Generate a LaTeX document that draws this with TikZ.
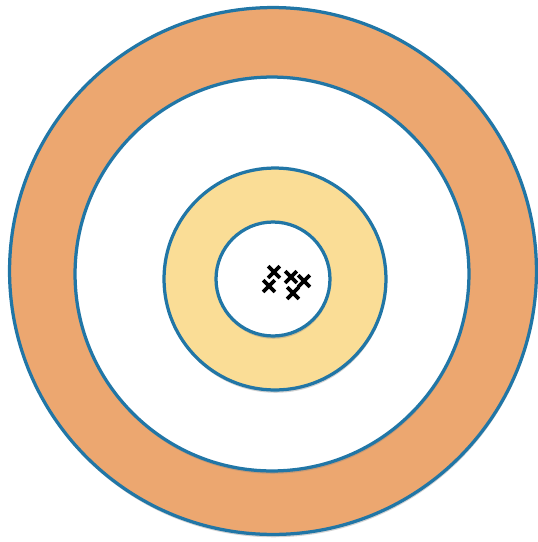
\documentclass[tikz,border=0pt]{standalone}
\usepackage{tikz}
\usetikzlibrary{shapes, shapes.misc, shadows}
\usepackage{xcolor}

\definecolor{ringline}{RGB}{33,118,166}
\definecolor{ringorange}{RGB}{236,167,112}
\definecolor{ringyellow}{RGB}{250,221,150}

\begin{document}
\begin{tikzpicture}[
    x=0.02cm, y=-0.02cm,
    ring/.style={
        circle, draw=ringline, line width=0.065cm, inner sep=0pt,
        drop shadow={shadow xshift=0.3pt, shadow yshift=-1.6pt, opacity=0.35}
    },
    hit/.style={
        cross out, draw=black, line width=0.075cm, minimum size=0.16cm, inner sep=0pt
    }
]

    \useasboundingbox (0,0) rectangle (538,542);

    % --- 圆环 (Rings) ---
    \node [ring, fill=ringorange, minimum size=10.54cm] (outer) at (273,271) {};
    \node [ring, fill=white, minimum size=7.88cm] (middle) at (272,274) {};
    \node [ring, fill=ringyellow, minimum size=4.44cm] (inner) at (275,279) {};
    \node [ring, fill=white, minimum size=2.28cm] (bull) at (273,279) {};

    % --- 命中点 (Hits) ---
    \node [hit] (h1) at (274,272) {};
    \node [hit] (h2) at (269,286) {};
    \node [hit] (h3) at (291,277) {};
    \node [hit] (h4) at (304,281) {};
    \node [hit] (h5) at (293,293) {};

\end{tikzpicture}
\end{document}
